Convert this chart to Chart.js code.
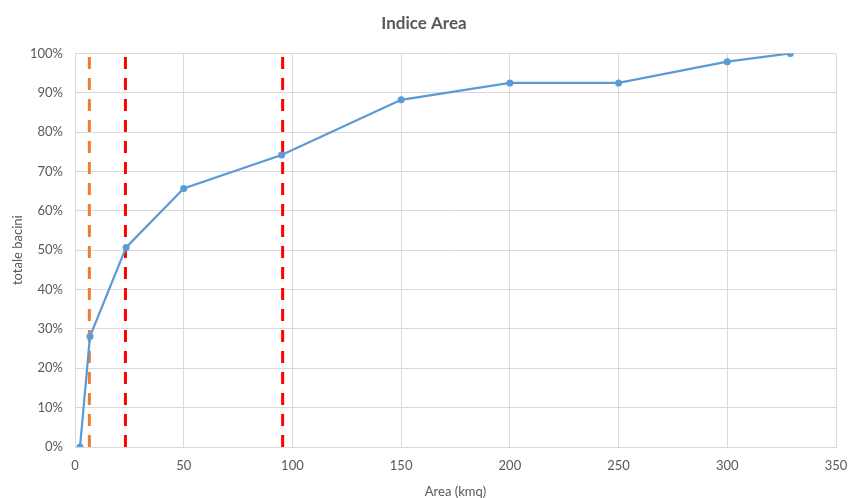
<!DOCTYPE html>
<html>
<head>
<meta charset="utf-8">
<script src="https://cdn.jsdelivr.net/npm/chart.js@4"></script>
<style>
    html, body { margin: 0; padding: 0; background: #fff; }
    #wrap { width: 848px; height: 498px; }
</style>
</head>
<body>
<div id="wrap"><canvas id="chart" width="848" height="498"></canvas></div>
<script>
// Dati
const areaKmq = [2.3, 6.9, 23.5, 50, 95, 150, 200, 250, 300, 329];
const quotaBacini = [0, 0.281, 0.507, 0.657, 0.742, 0.882, 0.925, 0.925, 0.979, 1.0];

// Soglie verticali tratteggiate
const sogliaArancio = [6.6];
const sogliaRosse = [23.2, 95.5];

const xTicks = [0, 50, 100, 150, 200, 250, 300, 350];
const yMax = 1;

const grigio = '#595959';
const fontBase = "Lato, 'Open Sans', sans-serif";

function lineaVerticale(x, colore) {
    return {
        data: [{ x: x, y: 0 }, { x: x, y: yMax }],
        borderColor: colore,
        borderWidth: 3,
        borderDash: [12, 9],
        pointRadius: 0,
        showLine: true,
        fill: false,
        order: 2
    };
}

const datasets = [{
    label: 'totale bacini',
    data: areaKmq.map((x, i) => ({ x: x, y: quotaBacini[i] })),
    borderColor: '#5B9BD5',
    backgroundColor: '#5B9BD5',
    borderWidth: 2.25,
    pointRadius: 3.5,
    pointBorderWidth: 0,
    showLine: true,
    tension: 0,
    order: 1
}];
sogliaArancio.forEach(x => datasets.push(lineaVerticale(x, '#ED7D31')));
sogliaRosse.forEach(x => datasets.push(lineaVerticale(x, '#FF0000')));

new Chart(document.getElementById('chart'), {
    type: 'scatter',
    data: { datasets: datasets },
    options: {
        responsive: false,
        animation: false,
        layout: { padding: 0 },
        plugins: {
            legend: { display: false },
            tooltip: { enabled: false },
            title: {
                display: true,
                text: 'Indice Area',
                color: grigio,
                font: { family: fontBase, size: 17, weight: 'bold' },
                padding: { top: 13, bottom: 20 }
            }
        },
        scales: {
            x: {
                type: 'linear',
                min: 0,
                max: 350,
                afterBuildTicks: s => { s.ticks = xTicks.map(v => ({ value: v })); },
                afterFit: s => { s.height = 51; s.paddingRight = 12; s.paddingLeft = 0; },
                grid: { color: '#D9D9D9', drawTicks: false },
                border: { color: '#D9D9D9' },
                ticks: {
                    color: grigio,
                    padding: 11,
                    maxRotation: 0,
                    font: { family: fontBase, size: 13 }
                },
                title: {
                    display: true,
                    text: 'Area (kmq)',
                    color: grigio,
                    font: { family: fontBase, size: 13, lineHeight: 1 },
                    padding: { top: 0, bottom: 0 }
                }
            },
            y: {
                min: 0,
                max: yMax,
                afterFit: s => { s.width = 75; },
                grid: { color: '#D9D9D9', drawTicks: false },
                border: { display: false },
                ticks: {
                    stepSize: 0.1,
                    color: grigio,
                    padding: 12,
                    font: { family: fontBase, size: 13 },
                    callback: v => Math.round(v * 100) + '%'
                },
                title: {
                    display: true,
                    text: 'totale bacini',
                    color: grigio,
                    font: { family: fontBase, size: 13, lineHeight: 1 },
                    padding: { top: 11, bottom: 0 }
                }
            }
        }
    }
});
</script>
</body>
</html>
